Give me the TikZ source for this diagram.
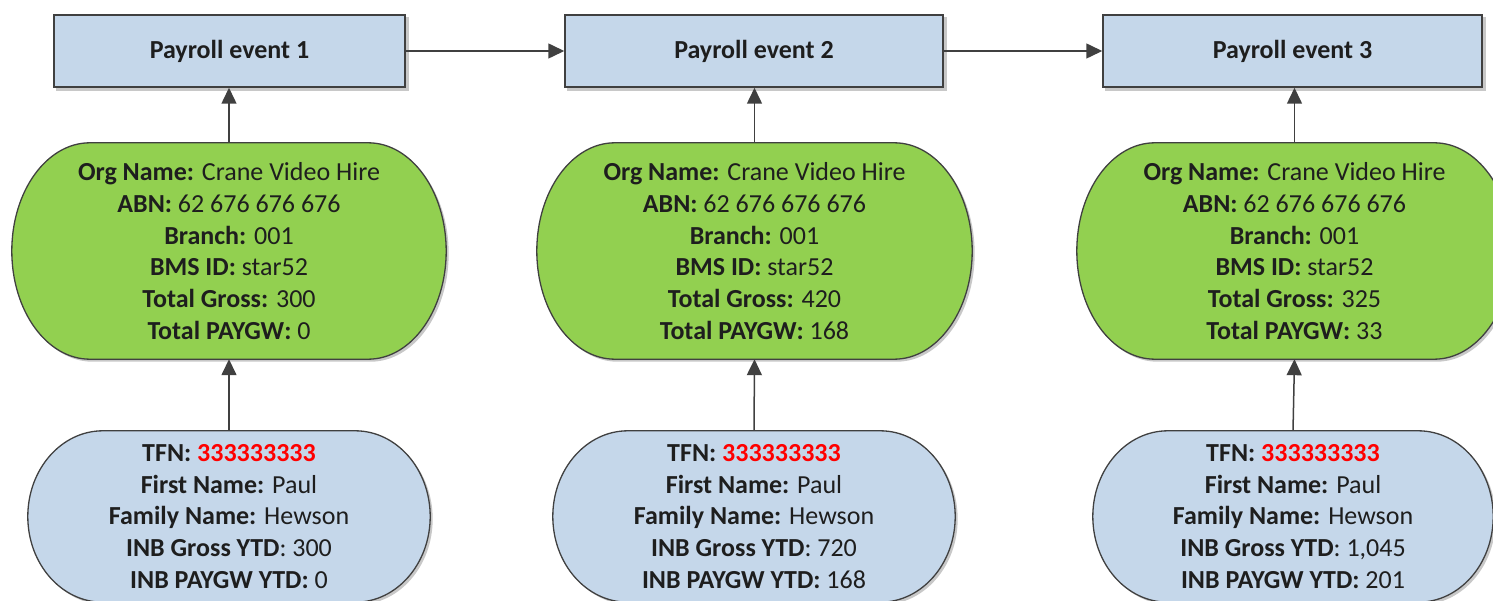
\documentclass[tikz,border=0pt]{standalone}
\usepackage{fontspec}
\setmainfont{Carlito}
\usetikzlibrary{arrows.meta,backgrounds,calc}
\definecolor{boxblue}{RGB}{197,215,234}
\definecolor{pillgreen}{RGB}{146,208,80}
\definecolor{edgegray}{RGB}{64,64,64}
\definecolor{txt}{RGB}{30,30,30}
\definecolor{tfnred}{RGB}{255,0,0}
\definecolor{shadowgray}{RGB}{200,200,200}
\tikzset{
  eventbox/.style={draw=edgegray, line width=1.5pt, fill=boxblue, minimum height=72pt,
    inner sep=0pt, font=\bfseries\fontsize{26}{30}\selectfont, text=txt},
  infonode/.style={inner sep=0pt, align=center, text=txt,
    font=\fontsize{26}{31.7}\selectfont},
  arr/.style={draw=edgegray, line width=1.5pt, -{Triangle[length=16pt,width=15pt]}},
  pilledge/.style={draw=edgegray, line width=1.3pt},
}
% #1 style, #2 node, #3 x radius, #4 dx, #5 dy
\newcommand\pillshape[5]{%
  \path[#1] let \p1=(#2.north west), \p2=(#2.south east), \n1={(\y1-\y2)/2} in
    (\x1+#3pt+#4pt,\y1+#5pt) -- (\x2-#3pt+#4pt,\y1+#5pt)
    arc[start angle=90,end angle=-90,x radius=#3pt,y radius=\n1]
    -- (\x1+#3pt+#4pt,\y2+#5pt)
    arc[start angle=270,end angle=90,x radius=#3pt,y radius=\n1] -- cycle;}
\begin{document}
\begin{tikzpicture}[x=1pt,y=1pt]
\useasboundingbox (0,0) rectangle (1493,600);
% top event boxes
\node[eventbox, minimum width=351pt] (e1) at (229.5,549) {Payroll event 1};
\node[eventbox, minimum width=378pt] (e2) at (754,549) {Payroll event 2};
\node[eventbox, minimum width=379pt] (e3) at (1292.5,549) {Payroll event 3};
% organisation nodes
\node[infonode, minimum width=434pt, minimum height=216pt] (g1) at (229,349)
  {\textbf{Org Name:} Crane Video Hire\\ \textbf{ABN:} 62 676 676 676\\ \textbf{Branch:} 001\\
   \textbf{BMS ID:} star52\\ \textbf{Total Gross:} 300\\ \textbf{Total PAYGW:} 0};
\node[infonode, minimum width=435pt, minimum height=216pt] (g2) at (754.5,349)
  {\textbf{Org Name:} Crane Video Hire\\ \textbf{ABN:} 62 676 676 676\\ \textbf{Branch:} 001\\
   \textbf{BMS ID:} star52\\ \textbf{Total Gross:} 420\\ \textbf{Total PAYGW:} 168};
\node[infonode, minimum width=435pt, minimum height=216pt] (g3) at (1294.5,349)
  {\textbf{Org Name:} Crane Video Hire\\ \textbf{ABN:} 62 676 676 676\\ \textbf{Branch:} 001\\
   \textbf{BMS ID:} star52\\ \textbf{Total Gross:} 325\\ \textbf{Total PAYGW:} 33};
% employee nodes
\node[infonode, minimum width=402pt, minimum height=171pt] (b1) at (229,83.5)
  {\textbf{TFN: \textcolor{tfnred}{333333333}}\\ \textbf{First Name:} Paul\\ \textbf{Family Name:} Hewson\\
   \textbf{INB Gross YTD}: 300\\ \textbf{INB PAYGW YTD:} 0};
\node[infonode, minimum width=402pt, minimum height=171pt] (b2) at (754,83.5)
  {\textbf{TFN: \textcolor{tfnred}{333333333}}\\ \textbf{First Name:} Paul\\ \textbf{Family Name:} Hewson\\
   \textbf{INB Gross YTD}: 720\\ \textbf{INB PAYGW YTD:} 168};
\node[infonode, minimum width=400pt, minimum height=171pt] (b3) at (1293,83.5)
  {\textbf{TFN: \textcolor{tfnred}{333333333}}\\ \textbf{First Name:} Paul\\ \textbf{Family Name:} Hewson\\
   \textbf{INB Gross YTD}: 1,045\\ \textbf{INB PAYGW YTD:} 201};
% shapes behind
\begin{scope}[on background layer]
  \foreach \nd in {e1,e2,e3}{
    \fill[shadowgray] ([shift={(3,-3)}]\nd.south west) rectangle ([shift={(3,-3)}]\nd.north east);}
  \foreach \nd in {g1,g2,g3}{
    \pillshape{fill=shadowgray}{\nd}{78}{2.5}{-2.5}
    \pillshape{pilledge,fill=pillgreen}{\nd}{78}{0}{0}}
  \foreach \nd in {b1,b2,b3}{
    \pillshape{fill=shadowgray}{\nd}{75}{2.5}{-2.5}
    \pillshape{pilledge,fill=boxblue}{\nd}{75}{0}{0}}
\end{scope}
% connectors
\draw[arr] (e1.east) -- (e2.west);
\draw[arr] (e2.east) -- (e3.west);
\draw[arr] (g1.north) -- (g1.north |- e1.south);
\draw[arr] (g2.north) -- (g2.north |- e2.south);
\draw[arr] (g3.north) -- (g3.north |- e3.south);
\draw[arr] (b1.north) -- (g1.south);
\draw[arr] (b2.north) -- (g2.south);
\draw[arr] (b3.north) -- (g3.south);
\end{tikzpicture}
\end{document}
